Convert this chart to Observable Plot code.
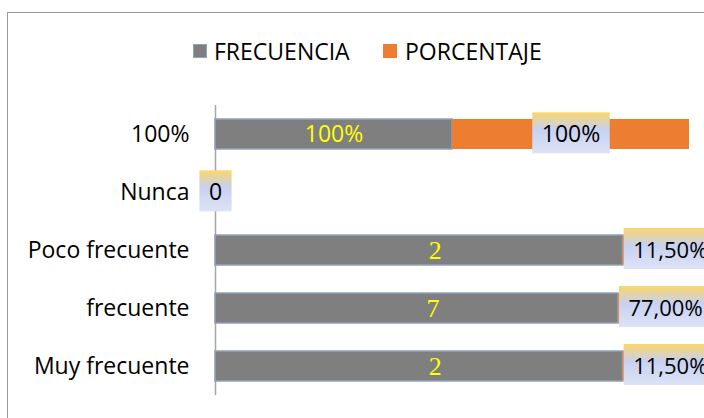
<!DOCTYPE html>
<html><head><meta charset="utf-8">
<script src="https://cdn.jsdelivr.net/npm/d3@7"></script>
<script src="https://cdn.jsdelivr.net/npm/@observablehq/plot@0.6"></script>
<style>
html,body{margin:0;padding:0;background:#fff;overflow:hidden}
#wrap{position:relative;width:704px;height:418px;overflow:hidden;font-family:"Open Sans",sans-serif;background:#fff}
#frame{position:absolute;left:7px;top:12px;width:740px;height:440px;border:1px solid #9a9a9a;box-sizing:border-box}
.sw{position:absolute;top:44px;width:14px;height:14px;box-sizing:border-box}
.lt{position:absolute;top:35px;font-size:23px;line-height:32px;color:#000;white-space:nowrap}
#chart{position:absolute;left:0;top:0}
</style></head>
<body><div id="wrap"><div id="frame"></div><div id="legend"></div><div id="chart"></div></div>
<script>
const categorias = ["100%", "Nunca", "Poco frecuente", "frecuente", "Muy frecuente"];
const series = ["FRECUENCIA", "PORCENTAJE"];
const colores = ["#7f7f7f", "#ed7d31"];
// bar lengths (the "100%" row's FRECUENCIA bar = 100)
const frecuencia = [100, 0, 172, 170, 172];
const frecuenciaEtiqueta = ["100%", "", "2", "7", "2"];
const porcentaje = [100, 0, 11.5, 77, 11.5];
const porcentajeEtiqueta = ["100%", "0", "11,50%", "77,00%", "11,50%"];

const rows = categorias.map((c, i) => ({
  cat: c, f: frecuencia[i], p: porcentaje[i],
  fl: frecuenciaEtiqueta[i], pl: porcentajeEtiqueta[i]
}));

// legend
const legend = document.getElementById("legend");
const swLeft = [193, 383], txLeft = [214, 405];
series.forEach((s, i) => {
  const sw = document.createElement("div");
  sw.className = "sw";
  sw.style.left = swLeft[i] + "px";
  sw.style.background = colores[i];
  if (i === 0) sw.style.border = "1px solid #8ea1bb";
  legend.appendChild(sw);
  const t = document.createElement("div");
  t.className = "lt";
  t.style.left = txLeft[i] + "px";
  t.textContent = s;
  legend.appendChild(t);
});

const centered = d => d.cat === "100%" || d.p === 0;

const chart = Plot.plot({
  width: 704,
  height: 418,
  marginLeft: 215,
  marginRight: 15,
  marginTop: 105,
  marginBottom: 23,
  style: {fontSize: "23px", fontFamily: "Open Sans, sans-serif", color: "#000", background: "transparent", overflow: "visible"},
  x: {domain: [0, 200], axis: null},
  y: {domain: categorias, paddingInner: 0.48, paddingOuter: 0.24, label: null, tickSize: 0, tickPadding: 26},
  marks: [
    Plot.ruleX([0], {stroke: "#a6a6a6", strokeWidth: 1.5}),
    Plot.barX(rows.filter(d => d.f > 0), {y: "cat", x1: d => 0, x2: d => d.f, fill: colores[0], stroke: "#8ea1bb", strokeWidth: 1.5}),
    Plot.barX(rows.filter(d => d.p > 0), {y: "cat", x1: d => d.f, x2: d => d.f + d.p, fill: colores[1]}),
    Plot.text(rows.filter(d => d.fl.includes("%")), {y: "cat", x: d => d.f / 2, text: "fl", fill: "#ffff00", fontSize: 23, fontFamily: "Open Sans, sans-serif"}),
    Plot.text(rows.filter(d => d.fl !== "" && !d.fl.includes("%")), {y: "cat", x: d => d.f / 2, text: "fl", fill: "#ffff00", fontSize: 26, fontFamily: "Liberation Serif, serif", dx: 16}),
    Plot.text(rows.filter(centered), {y: "cat", x: d => d.f + d.p / 2, text: "pl", fill: "#000", fontSize: 23, ariaDescription: "pct"}),
    Plot.text(rows.filter(d => !centered(d)), {y: "cat", x: d => d.f, text: "pl", fill: "#000", fontSize: 22, textAnchor: "start", dx: 10, ariaDescription: "pct"})
  ]
});
document.getElementById("chart").appendChild(chart);

// gradient label boxes behind percentage labels
const ns = "http://www.w3.org/2000/svg";
const defs = document.createElementNS(ns, "defs");
const grad = document.createElementNS(ns, "linearGradient");
grad.setAttribute("id", "lblgrad");
grad.setAttribute("x1", "0"); grad.setAttribute("y1", "0");
grad.setAttribute("x2", "0"); grad.setAttribute("y2", "1");
[["0", "#fad66a"], ["0.42", "#c7d1f1"], ["1", "#dde3f6"]].forEach(([o, c]) => {
  const s = document.createElementNS(ns, "stop");
  s.setAttribute("offset", o);
  s.setAttribute("stop-color", c);
  grad.appendChild(s);
});
defs.appendChild(grad);
chart.insertBefore(defs, chart.firstChild);

let groups = Array.from(chart.querySelectorAll('g[aria-description="pct"]'));
if (groups.length === 0) {
  const tg = Array.from(chart.querySelectorAll('g[aria-label="text"]'));
  groups = tg.slice(-2);
}
groups.forEach(g => {
  g.querySelectorAll("text").forEach(t => {
    const b = t.getBBox();
    const r = document.createElementNS(ns, "rect");
    const padX = 9.5;
    r.setAttribute("x", b.x - padX);
    r.setAttribute("y", b.y + b.height / 2 - 20.5);
    r.setAttribute("width", b.width + 2 * padX);
    r.setAttribute("height", 41);
    r.setAttribute("fill", "url(#lblgrad)");
    r.setAttribute("stroke", "none");
    const tr = t.getAttribute("transform");
    if (tr) r.setAttribute("transform", tr);
    t.parentNode.insertBefore(r, t);
  });
});
</script>
</body></html>
